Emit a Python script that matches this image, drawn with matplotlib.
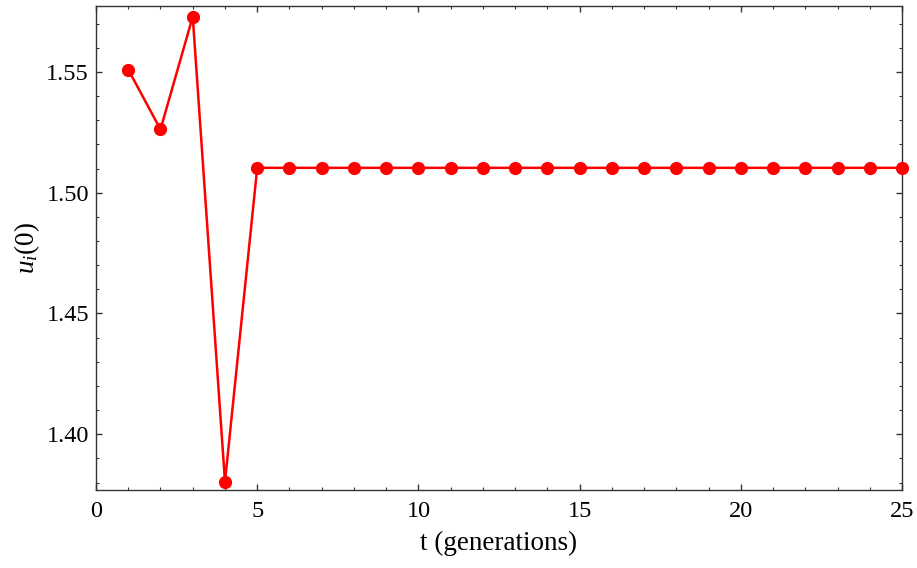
import matplotlib
matplotlib.use("Agg")
import matplotlib.pyplot as plt
from matplotlib.ticker import MultipleLocator, FormatStrFormatter

t = list(range(1, 26))
u = [1.5510, 1.5262, 1.5729, 1.3803] + [1.5103] * 21

plt.rcParams['font.family'] = ['Liberation Serif', 'DejaVu Serif']
plt.rcParams['mathtext.fontset'] = 'custom'
plt.rcParams['mathtext.it'] = 'Liberation Serif:italic'
plt.rcParams['mathtext.rm'] = 'Liberation Serif'

fig = plt.figure(figsize=(9.17, 5.68), dpi=100)
ax = fig.add_axes([0.1047, 0.1373, 0.879, 0.8521])
ax.plot(t, u, color='#ff0000', lw=1.8, marker='o', markersize=8.5, clip_on=False, zorder=3)
ax.set_xlim(0, 25)
ax.set_ylim(1.3769, 1.5773)
ax.xaxis.set_major_locator(MultipleLocator(5))
ax.xaxis.set_minor_locator(MultipleLocator(1))
ax.yaxis.set_major_locator(MultipleLocator(0.05))
ax.yaxis.set_minor_locator(MultipleLocator(0.01))
ax.yaxis.set_major_formatter(FormatStrFormatter('%.2f'))
for s in ax.spines.values():
    s.set_color('#333333')
    s.set_linewidth(1.0)
ax.tick_params(which='both', direction='in', top=True, right=True, colors='#333333', labelcolor='black', labelsize=17.5)
ax.tick_params(which='major', length=4.5, width=1.0)
ax.tick_params(axis='x', which='major', pad=8)
ax.tick_params(axis='y', which='major', pad=5)
ax.tick_params(which='minor', length=2.5, width=0.8)
ax.set_xlabel('t (generations)', fontsize=19.5, labelpad=6)
ax.set_ylabel(r'$u_i\mathrm{(0)}$', fontsize=19.5, labelpad=3)
fig.savefig('out.png', dpi=100)
